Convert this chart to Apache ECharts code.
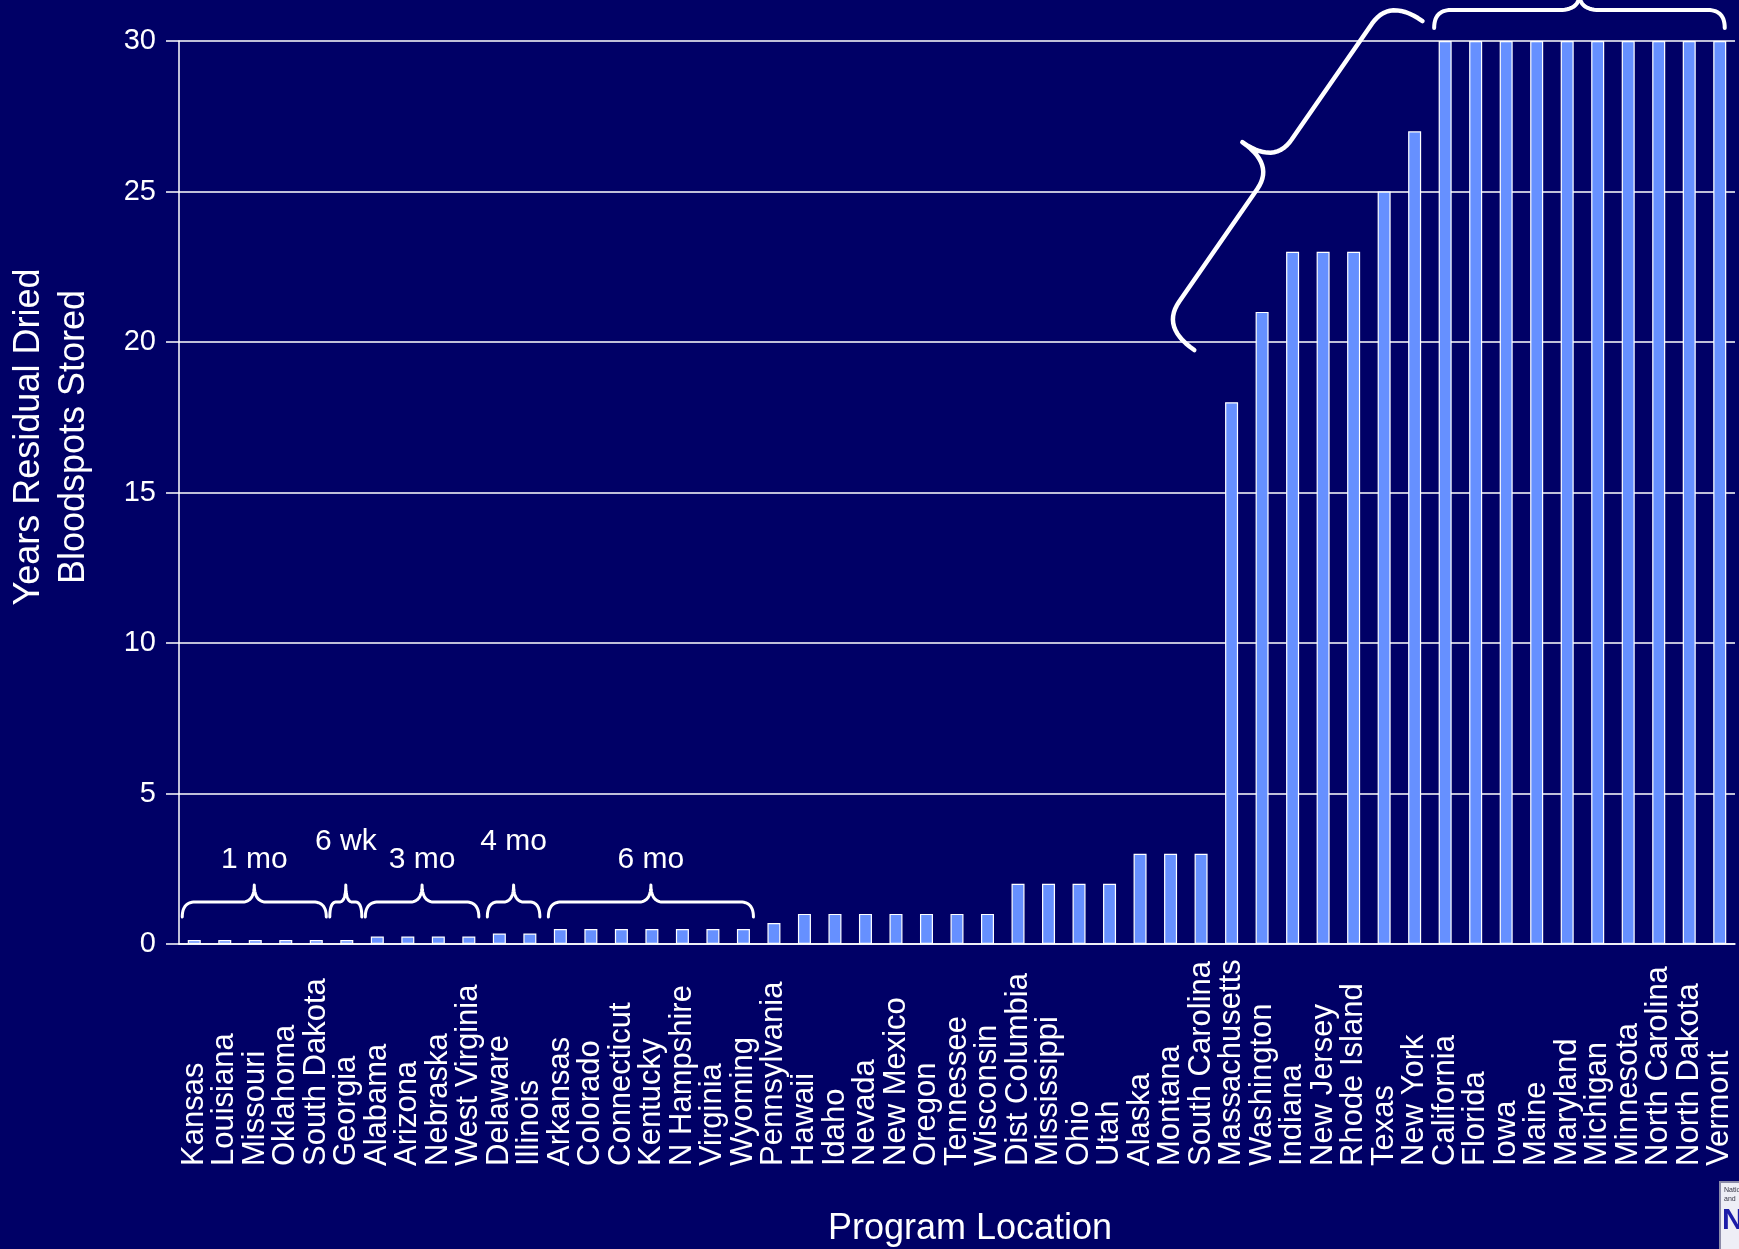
<!DOCTYPE html>
<html>
<head>
<meta charset="utf-8">
<script src="https://cdn.jsdelivr.net/npm/echarts@6/dist/echarts.min.js"></script>
<style>
html,body{margin:0;padding:0;background:#000066;}
#c{width:1739px;height:1249px;}
</style>
</head>
<body>
<div id="c"></div>
<script>
// ---- data ----
const states = ['Kansas','Louisiana','Missouri','Oklahoma','South Dakota','Georgia','Alabama','Arizona','Nebraska','West Virginia','Delaware','Illinois','Arkansas','Colorado','Connecticut','Kentucky','N Hampshire','Virginia','Wyoming','Pennsylvania','Hawaii','Idaho','Nevada','New Mexico','Oregon','Tennessee','Wisconsin','Dist Columbia','Mississippi','Ohio','Utah','Alaska','Montana','South Carolina','Massachusetts','Washington','Indiana','New Jersey','Rhode Island','Texas','New York','California','Florida','Iowa','Maine','Maryland','Michigan','Minnesota','North Carolina','North Dakota','Vermont'];
const yearsStored = [0.13,0.13,0.13,0.13,0.13,0.13,0.25,0.25,0.25,0.25,0.35,0.35,0.5,0.5,0.5,0.5,0.5,0.5,0.5,0.7,1,1,1,1,1,1,1,2,2,2,2,3,3,3,18,21,23,23,23,25,27,30,30,30,30,30,30,30,30,30,30];
const yTickValues = [0,5,10,15,20,25,30];
const groupLabels = ['1 mo','6 wk','3 mo','4 mo','6 mo'];
const groupFirst = ['Kansas','Georgia','Alabama','Delaware','Arkansas'];
const groupLast = ['South Dakota','Georgia','West Virginia','Illinois','Wyoming'];
const longGroupFirst = 'California';
const longGroupLast = 'Vermont';
const yAxisTitle = ['Years Residual Dried','Bloodspots Stored'];
const xAxisTitle = 'Program Location';

// ---- chart ----
const FONT = '"Liberation Sans", Arial, Helvetica, sans-serif';
const chart = echarts.init(document.getElementById('c'), null, {renderer:'canvas'});
chart.setOption({
  backgroundColor: '#000066',
  animation: false,
  grid: {left:179, right:4, top:41, bottom:305, containLabel:false, outerBoundsMode:'none'},
  xAxis: {
    type:'category', data: states,
    axisLine:{show:true, lineStyle:{color:'#ffffff', width:1.5}},
    axisTick:{show:false},
    axisLabel:{interval:0, rotate:90, align:'left', verticalAlign:'middle', margin:222,
      color:'#ffffff', fontSize:31, fontFamily:FONT}
  },
  yAxis: {
    type:'value', min:yTickValues[0], max:yTickValues[yTickValues.length-1], interval:yTickValues[1]-yTickValues[0],
    axisLine:{show:true, lineStyle:{color:'#ffffff', width:1.5}},
    axisTick:{show:true, inside:false, length:13, lineStyle:{color:'#ffffff', width:1.5}},
    axisLabel:{color:'#ffffff', fontSize:29, margin:23, fontFamily:FONT},
    splitLine:{show:true, lineStyle:{color:'#ffffff', width:1.5}}
  },
  series:[{
    type:'bar', data: yearsStored, barWidth:13,
    itemStyle:{color:'#6690ff', borderColor:'#ffffff', borderWidth:1.2}
  }]
});

// ---- annotations (positioned through the axes) ----
const px = name => chart.convertToPixel({xAxisIndex:0}, name);
const py = v => chart.convertToPixel({yAxisIndex:0}, v);
const bw = px(states[1]) - px(states[0]);
const fx = t => px(states[0]) + t * bw;

function quad(out, a, c, b){
  const N = 14;
  for (let k = 1; k <= N; k++){
    const t = k / N, s = 1 - t;
    out.push([s*s*a[0] + 2*s*t*c[0] + t*t*b[0], s*s*a[1] + 2*s*t*c[1] + t*t*b[1]]);
  }
}
function bracePoints(p, q, side, hEnd, hTip, rEnd, rTip, tipFrac){
  const L = Math.hypot(q[0]-p[0], q[1]-p[1]);
  const u = [(q[0]-p[0])/L, (q[1]-p[1])/L];
  const n = [-u[1]*side, u[0]*side];
  const at = (s,h) => [p[0]+u[0]*s+n[0]*h, p[1]+u[1]*s+n[1]*h];
  const m = L * tipFrac;
  const pts = [at(0,-hEnd)];
  quad(pts, at(0,-hEnd), at(0,0), at(rEnd,0));
  pts.push(at(m-rTip,0));
  quad(pts, at(m-rTip,0), at(m,0), at(m,hTip));
  quad(pts, at(m,hTip), at(m,0), at(m+rTip,0));
  pts.push(at(L-rEnd,0));
  quad(pts, at(L-rEnd,0), at(L,0), at(L,-hEnd));
  return pts;
}
function braceEl(points, width){
  return {type:'polyline', silent:true, shape:{points: points},
    style:{fill:null, stroke:'#ffffff', lineWidth:width, lineCap:'round', lineJoin:'round'}};
}

const graphics = [];
const y0 = py(0);
const raised = {'6 wk':true, '4 mo':true};
groupLabels.forEach((lab, i) => {
  const a = px(groupFirst[i]), b = px(groupLast[i]);
  const single = groupFirst[i] === groupLast[i];
  const xl = a - (single ? 17 : 12), xr = b + (single ? 15 : 10);
  const w = xr - xl;
  graphics.push(braceEl(bracePoints([xl, y0-42],[xr, y0-42], -1, 15, 17, Math.min(13, w/5), Math.min(12, w/5), 0.5), 3));
  graphics.push({type:'text', silent:true, x:(xl+xr)/2, y: y0 - (raised[lab] ? 102 : 84),
    style:{text:lab, fill:'#ffffff', fontSize:30, fontFamily:FONT, align:'center', verticalAlign:'middle'}});
});

// top brace over the 30-year programs
const top30 = py(30);
graphics.push(braceEl(bracePoints([px(longGroupFirst)-11, top30-31],[px(longGroupLast)+5, top30-31], -1, 18, 16, 17, 20, 0.5), 4));
// diagonal brace pointing to the 18-27 year programs
graphics.push(braceEl(bracePoints([fx(39.18), py(31.42)],[fx(31.70), py(20.49)], 1, 40, 39, 31, 30, 0.505), 4.5));

// axis titles
graphics.push({type:'text', silent:true, x:52, y:437, rotation:Math.PI/2,
  style:{text: yAxisTitle.join('\n'), fill:'#ffffff', fontSize:36, lineHeight:45, fontFamily:FONT, align:'center', verticalAlign:'middle'}});
graphics.push({type:'text', silent:true, x:970, y:1229,
  style:{text: xAxisTitle, fill:'#ffffff', fontSize:36, fontFamily:FONT, align:'center', verticalAlign:'middle'}});

// corner logo fragment
graphics.push({type:'rect', silent:true, shape:{x:1720, y:1182, width:40, height:80},
  style:{fill:'#eeeef6', stroke:'#8a8aa8', lineWidth:2}});
graphics.push({type:'text', silent:true, x:1724, y:1186,
  style:{text:'National\nand', fill:'#333344', fontSize:7, lineHeight:9, fontFamily:FONT, align:'left', verticalAlign:'top'}});
graphics.push({type:'text', silent:true, x:1722, y:1206,
  style:{text:'N', fill:'#1c1ca8', fontSize:30, fontWeight:'bold', fontFamily:FONT, align:'left', verticalAlign:'top'}});

chart.setOption({graphic: graphics});
</script>
</body>
</html>
